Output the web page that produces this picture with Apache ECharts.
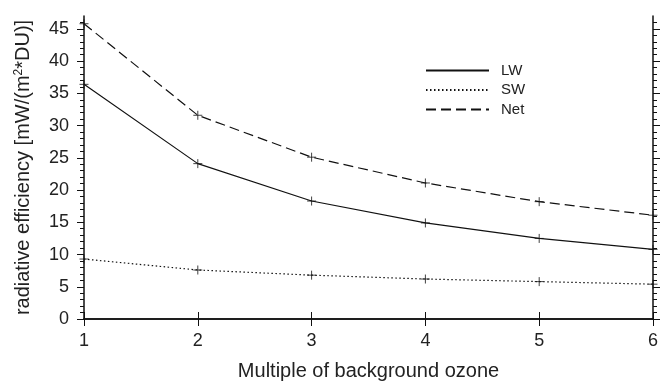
<!DOCTYPE html>
<html>
<head>
<meta charset="utf-8">
<script src="https://cdn.jsdelivr.net/npm/echarts@6/dist/echarts.min.js"></script>
<style>
  html, body { margin: 0; padding: 0; background: #fff; }
  #chart { width: 670px; height: 386px; }
</style>
</head>
<body>
<div id="chart"></div>
<script>
// data
const multiples = [1, 2, 3, 4, 5, 6];
const lw = [36.4, 24.1, 18.3, 14.9, 12.5, 10.8];
const sw = [9.3, 7.6, 6.8, 6.2, 5.8, 5.4];
const net = [45.8, 31.6, 25.1, 21.1, 18.2, 16.1];
const yTicks = [0, 5, 10, 15, 20, 25, 30, 35, 40, 45];

const font = 'Liberation Sans, Arial, sans-serif';
const ink = '#111';
const txt = '#222';
const plus = 'path://M0,5 L10,5 M5,0 L5,10';

const pairs = (ys) => multiples.map((x, i) => [x, ys[i]]);

const chart = echarts.init(document.getElementById('chart'));

const lineSeries = (name, ys, type) => ({
  name: name,
  type: 'line',
  data: pairs(ys),
  symbol: 'none',
  lineStyle: { color: ink, width: 1.2, type: type },
  itemStyle: { color: ink },
  z: 3
});
const markSeries = (ys) => ({
  type: 'scatter',
  data: pairs(ys),
  symbol: plus,
  symbolSize: 9,
  itemStyle: { color: 'transparent', borderColor: ink, borderWidth: 1 },
  z: 4,
  silent: true
});

const xCommon = {
  type: 'value', min: 1, max: 6, interval: 1,
  axisLine: { show: true, lineStyle: { color: ink, width: 1.5 } },
  axisTick: { show: true, length: 7, lineStyle: { color: ink } },
  splitLine: { show: false }
};
const yCommon = {
  type: 'value', min: 0, max: 47, interval: 5,
  axisLine: { show: true, lineStyle: { color: ink, width: 1.5 } },
  axisTick: { show: true, length: 7, customValues: yTicks, lineStyle: { color: ink } },
  minorTick: { show: true, splitNumber: 5, length: 4, lineStyle: { color: ink } },
  splitLine: { show: false }
};

chart.setOption({
  animation: false,
  textStyle: { fontFamily: font },
  grid: { left: 84, right: 17, top: 16, bottom: 66 },
  legend: {
    orient: 'vertical',
    left: 420,
    top: 58,
    itemWidth: 63,
    itemHeight: 14,
    itemGap: 4.5,
    itemStyle: { opacity: 0 },
    textStyle: { fontSize: 15, color: txt, fontFamily: font, padding: [0, 0, 0, 7] },
    data: ['LW', 'SW', 'Net']
  },
  xAxis: [
    Object.assign({}, xCommon, {
      position: 'bottom',
      name: 'Multiple of background ozone',
      nameLocation: 'middle',
      nameGap: 42,
      nameTextStyle: { fontSize: 20, color: txt, fontFamily: font },
      axisLabel: { fontSize: 18, color: txt, margin: 13 }
    }),
    Object.assign({}, xCommon, {
      position: 'top',
      axisLabel: { show: false }
    })
  ],
  yAxis: [
    Object.assign({}, yCommon, {
      position: 'left',
      name: 'radiative efficiency [mW/(m{sup|2}*DU)]',
      nameLocation: 'middle',
      nameGap: 50,
      nameTextStyle: {
        fontSize: 20, color: txt, fontFamily: font,
        rich: { sup: { fontSize: 12, verticalAlign: 'top', padding: [0, 0, 9, 0], fontFamily: font, color: txt } }
      },
      axisLabel: { fontSize: 18, color: txt, margin: 15, customValues: yTicks }
    }),
    Object.assign({}, yCommon, {
      position: 'right',
      axisLabel: { show: false }
    })
  ],
  series: [
    lineSeries('LW', lw, 'solid'),
    lineSeries('SW', sw, [1.5, 2.5]),
    lineSeries('Net', net, [10, 5]),
    markSeries(lw),
    markSeries(sw),
    markSeries(net)
  ]
});
</script>
</body>
</html>
